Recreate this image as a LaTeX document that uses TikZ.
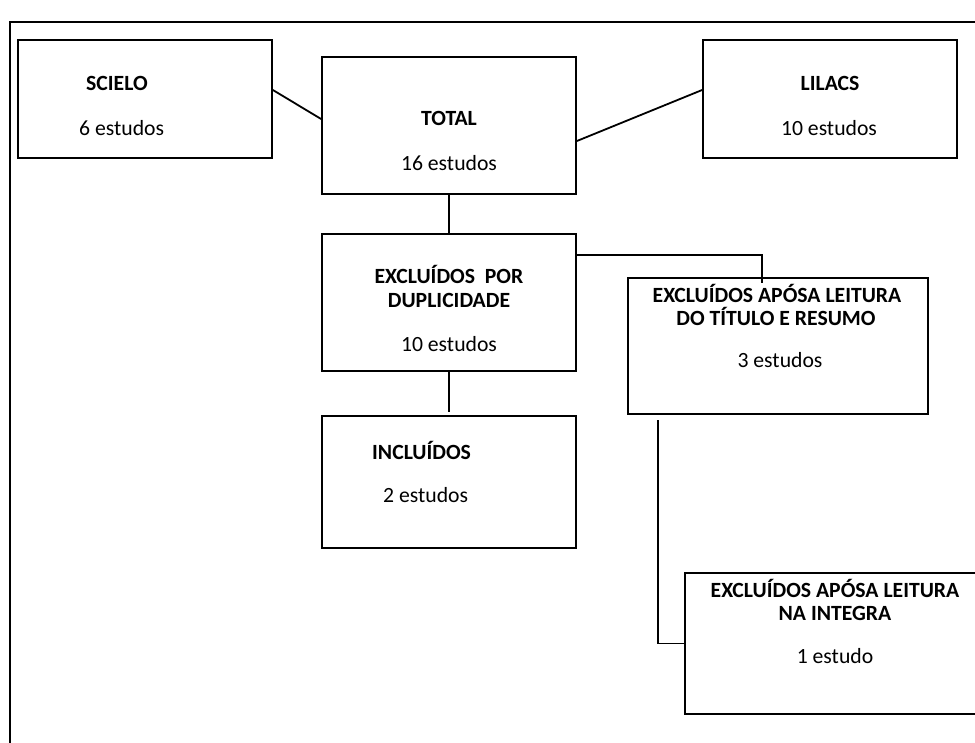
\documentclass[tikz,border=0pt]{standalone}
\usepackage{fontspec}
\setmainfont{Carlito}
\tikzset{
 boxnode/.style={draw=black, line width=1.8pt, inner sep=0pt, rectangle},
 link/.style={draw=black, line width=1.8pt},
 head/.style={font=\fontsize{21.7}{24}\selectfont\bfseries, anchor=base, inner sep=0pt},
 count/.style={font=\fontsize{21.7}{24}\selectfont, anchor=base, inner sep=0pt},
}
\begin{document}
\begin{tikzpicture}[x=1pt,y=-1pt]
\clip (0,0) rectangle (975,742);
% outer frame (open at right and bottom)
\draw[line width=2pt] (10,745) -- (10,22) -- (980,22);
% boxes
\node[boxnode, minimum width=254pt, minimum height=118pt] (scielo) at (145,99) {};
\node[boxnode, minimum width=254pt, minimum height=137pt] (total) at (449,125.5) {};
\node[boxnode, minimum width=254pt, minimum height=118pt] (lilacs) at (830,99) {};
\node[boxnode, minimum width=254pt, minimum height=137pt] (dup) at (449,302.5) {};
\node[boxnode, minimum width=300pt, minimum height=136pt] (titulo) at (778,346) {};
\node[boxnode, minimum width=254pt, minimum height=132pt] (incl) at (449,482) {};
\node[boxnode, minimum width=300pt, minimum height=141pt] (integra) at (835,643.5) {};
% free ends
\coordinate (tin) at (762,283);
\coordinate (iin) at (449,412);
\coordinate (tout) at (658,420);
% connectors
\draw[link] (scielo.east |- 0,90) -- (total.west |- 0,119);
\draw[link] (total.east |- 0,141) -- (lilacs.west |- 0,90);
\draw[link] (total.south) -- (dup.north);
\draw[link] (dup.east |- 0,255) -| (tin);
\draw[link] (dup.south) -- (iin);
\draw[link] (tout) |- (integra.west);
% texts
\node[head, anchor=base west] (t1) at (86,90) {SCIELO};
\node[count, anchor=base west] (c1) at (79,135) {6 estudos};
\node[head] (t2) at (449,125) {TOTAL};
\node[count] (c2) at (449,170) {16 estudos};
\node[head] (t3) at (830,90) {LILACS};
\node[count] (c3) at (829,135) {10 estudos};
\node[head] (t4a) at (449,283) {EXCLUÍDOS\ \ POR};
\node[head] (t4b) at (449,307) {DUPLICIDADE};
\node[count] (c4) at (449,351) {10 estudos};
\node[head] (t5a) at (777,302) {EXCLUÍDOS APÓSA LEITURA};
\node[head] (t5b) at (776,325) {DO TÍTULO E RESUMO};
\node[count] (c5) at (780,367) {3 estudos};
\node[head, anchor=base west] (t6) at (372,459) {INCLUÍDOS};
\node[count, anchor=base west] (c6) at (383,502) {2 estudos};
\node[head] (t7a) at (835,597) {EXCLUÍDOS APÓSA LEITURA};
\node[head] (t7b) at (835,620) {NA INTEGRA};
\node[count] (c7) at (835,663) {1 estudo};
\end{tikzpicture}
\end{document}
